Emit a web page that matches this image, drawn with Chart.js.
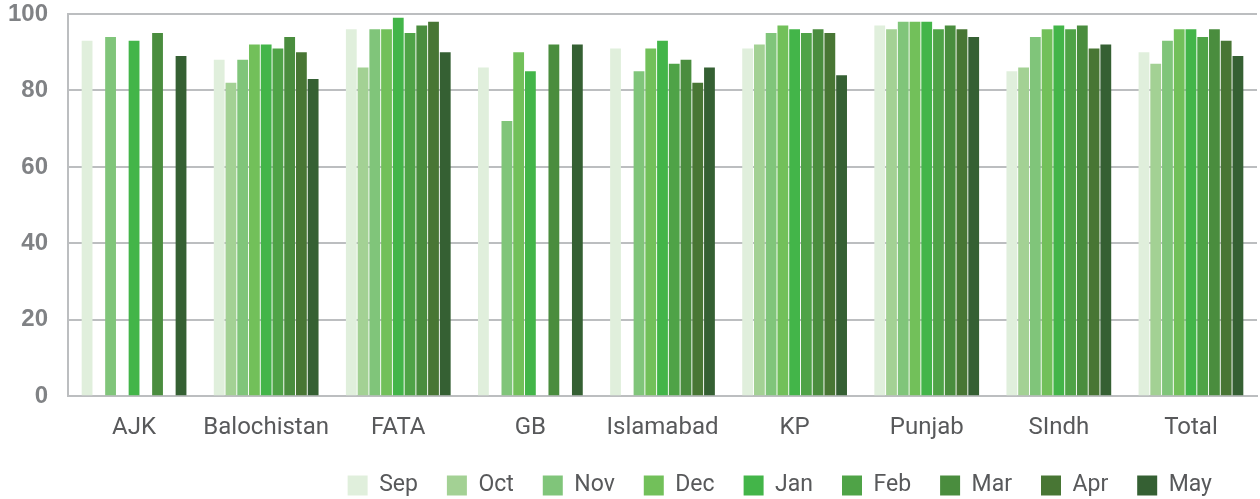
<!DOCTYPE html>
<html>
<head>
<meta charset="utf-8">
<script src="https://cdn.jsdelivr.net/npm/chart.js@4"></script>
<style>
  html, body { margin: 0; padding: 0; background: #fff; }
  #wrap { width: 1260px; height: 499px; }
</style>
</head>
<body>
<div id="wrap"><canvas id="barChart"></canvas></div>
<script>
var regions = ["AJK", "Balochistan", "FATA", "GB", "Islamabad", "KP", "Punjab", "SIndh", "Total"];
var months = ["Sep", "Oct", "Nov", "Dec", "Jan", "Feb", "Mar", "Apr", "May"];
var yTicks = [0, 20, 40, 60, 80, 100];

// one array per month, values in region order (null = no bar)
var sep = [93, 88, 96, 86, 91, 91, 97, 85, 90];
var oct = [null, 82, 86, null, null, 92, 96, 86, 87];
var nov = [94, 88, 96, 72, 85, 95, 98, 94, 93];
var dec = [null, 92, 96, 90, 91, 97, 98, 96, 96];
var jan = [93, 92, 99, 85, 93, 96, 98, 97, 96];
var feb = [null, 91, 95, null, 87, 95, 96, 96, 94];
var mar = [95, 94, 97, 92, 88, 96, 97, 97, 96];
var apr = [null, 90, 98, null, 82, 95, 96, 91, 93];
var may = [89, 83, 90, 92, 86, 84, 94, 92, 89];

var series = [sep, oct, nov, dec, jan, feb, mar, apr, may];
var colors = ["#e0efdc", "#a3d194", "#80c57a", "#72c05a", "#43b549", "#4fa347", "#4a8d3e", "#487634", "#356033"];

var datasets = months.map(function (m, i) {
	return {
		label: m,
		data: series[i],
		backgroundColor: colors[i],
		borderWidth: 0,
		categoryPercentage: 0.8,
		barPercentage: 0.92
	};
});

// legend ends a bit short of the right edge in the original
var legendShift = {
	id: 'legendShift',
	afterLayout: function (chart) {
		chart.legend.right -= 16;
	}
};

var ctx = document.getElementById("barChart").getContext("2d");
var myChart = new Chart(ctx, {
	type: 'bar',
	data: {
		labels: regions,
		datasets: datasets
	},
	plugins: [legendShift],
	options: {
		responsive: true,
		maintainAspectRatio: false,
		animation: false,
		layout: {
			padding: { top: 0, right: 3, left: 0, bottom: -8 }
		},
		plugins: {
			tooltip: { enabled: false },
			legend: {
				position: 'bottom',
				align: 'end',
				labels: {
					boxWidth: 20,
					boxHeight: 20,
					padding: 29,
					color: '#58595b',
					font: { family: "Roboto, sans-serif", size: 23 }
				}
			}
		},
		scales: {
			x: {
				afterFit: function (axis) { axis.height -= 6; },
				grid: { display: false },
				border: { display: true, color: '#bcbec0', width: 2 },
				ticks: {
					padding: 9,
					color: '#58595b',
					font: { family: "Roboto, sans-serif", size: 24 }
				}
			},
			y: {
				min: 0,
				max: 100,
				afterBuildTicks: function (axis) {
					axis.ticks = yTicks.map(function (v) { return { value: v }; });
				},
				afterFit: function (axis) {
					axis.width = 68;
					axis.paddingTop = 14;
					axis.paddingBottom = 0;
				},
				grid: {
					color: '#bcbec0',
					lineWidth: 2,
					drawTicks: false
				},
				border: { display: true, color: '#bcbec0', width: 2 },
				ticks: {
					padding: 20,
					color: '#808285',
					font: { family: "'Liberation Sans', Arial, sans-serif", size: 24, weight: 'bold' }
				}
			}
		}
	}
});
</script>
</body>
</html>
